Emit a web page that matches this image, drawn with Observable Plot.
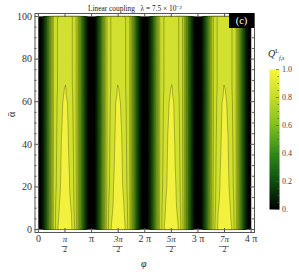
<!DOCTYPE html>
<html><head><meta charset="utf-8">
<script src="https://cdn.jsdelivr.net/npm/d3@7"></script>
<script src="https://cdn.jsdelivr.net/npm/@observablehq/plot@0.6"></script>
<style>
body{margin:0;background:#fff;}
#wrap{position:relative;width:299px;height:274px;font-family:"Liberation Serif",serif;}
#wrap svg{position:absolute;}
.tag{position:absolute;left:229px;top:13px;width:25px;height:15px;background:#000;color:#fff;font:10.5px "Liberation Serif",serif;text-align:center;line-height:15px;}
.qlab{position:absolute;left:268px;top:46px;font:italic 10px "Liberation Serif",serif;color:#222;line-height:10px;}
.qlab sup{font-size:6px;font-style:normal;}
.qlab sub{font-size:6px;}
</style></head><body><div id="wrap"></div>
<script>
const PI = Math.PI;
const nPeriods = 4;
// half-period sample positions (fraction of π) and read values
const tFrac = [0, 0.04, 0.075, 0.1, 0.13, 0.16, 0.19, 0.22, 0.25, 0.28, 0.32, 0.36, 0.40, 0.44, 0.48, 0.5];
const alphaRows = [0, 20, 40, 60, 66, 70, 80, 100];
const lowProfile = [0, 0.015, 0.05, 0.13, 0.27, 0.42, 0.56, 0.68, 0.78];
const highProfiles = [
  [0.86, 0.90, 0.95, 0.965, 0.972, 0.976, 0.977],
  [0.855, 0.89, 0.915, 0.945, 0.96, 0.965, 0.967],
  [0.85, 0.885, 0.91, 0.935, 0.955, 0.96, 0.962],
  [0.85, 0.88, 0.905, 0.925, 0.947, 0.955, 0.957],
  [0.85, 0.88, 0.9, 0.92, 0.935, 0.951, 0.955],
  [0.85, 0.88, 0.9, 0.915, 0.93, 0.944, 0.949],
  [0.85, 0.88, 0.9, 0.915, 0.93, 0.94, 0.945],
  [0.85, 0.88, 0.9, 0.915, 0.93, 0.94, 0.945]
];
const levels = [0, 0.05, 0.1, 0.15, 0.2, 0.25, 0.3, 0.35, 0.4, 0.45, 0.5, 0.55, 0.6, 0.65, 0.7, 0.75, 0.8, 0.85, 0.9, 0.95];
// colour bar gradient
const colorStops = [0, 0.2, 0.4, 0.6, 0.8, 1];
const colorRange = ["#000000", "#0c4f0e", "#2f8a18", "#80bf20", "#c6dc2a", "#f8f63c"];
// colour given to each contour band (by its lower level)
const bandStops = [0, 0.2, 0.4, 0.6, 0.8, 0.9, 0.95];
const bandRange = ["#000000", "#0c4f0e", "#2f8a18", "#80bf20", "#c2d928", "#d2e12f", "#f2f23e"];

const yMajor = [0, 20, 40, 60, 80, 100];
const yMinor = [5, 10, 15, 25, 30, 35, 45, 50, 55, 65, 70, 75, 85, 90, 95];
const xWholeTicks = [0, 1, 2, 3, 4];
const xWholeLabels = ["0", "π", "2 π", "3 π", "4 π"];
const xHalfTicks = [0.5, 1.5, 2.5, 3.5];
const xHalfNumer = ["π", "3π", "5π", "7π"];
const xHalfDenom = ["2", "2", "2", "2"];
const cbMajor = [0, 0.2, 0.4, 0.6, 0.8, 1];
const cbLabels = ["0.", "0.2", "0.4", "0.6", "0.8", "1.0"];
const cbMinor = [0.05, 0.1, 0.15, 0.25, 0.3, 0.35, 0.45, 0.5, 0.55, 0.65, 0.7, 0.75, 0.85, 0.9, 0.95];

// table for the contour
const points = [];
alphaRows.forEach((a, r) => {
  const half = lowProfile.concat(highProfiles[r]);
  for (let k = 0; k < nPeriods; k++) {
    tFrac.forEach((t, i) => {
      points.push({phi: (k + t) * PI, alpha: a, v: half[i]});
      if (t > 0 && t < 0.5) points.push({phi: (k + 1 - t) * PI, alpha: a, v: half[i]});
    });
  }
  points.push({phi: nPeriods * PI, alpha: a, v: half[0]});
});

const barColor = {type: "linear", domain: colorStops, range: colorRange, interpolate: "rgb"};
const mainColor = {type: "linear", domain: bandStops, range: bandRange, interpolate: "rgb", clamp: true};
const xPad = 0.2, yPad = 1.4;
const W = 299, H = 274, mL = 34.5, mR = 45, mT = 13, mB = 42;
const innerW = W - mL - mR, innerH = H - mT - mB;
const frameCol = "#555", labCol = "#333";
const serif = "Liberation Serif";

const chart = Plot.plot({
  width: W, height: H,
  marginLeft: mL, marginRight: mR, marginTop: mT, marginBottom: mB,
  x: {domain: [-xPad, nPeriods * PI + xPad], axis: null},
  y: {domain: [-yPad, 100 + yPad], axis: null},
  color: mainColor,
  style: {fontFamily: serif, background: "transparent", overflow: "visible"},
  marks: [
    Plot.contour(points, {x: "phi", y: "alpha", value: "v", fill: "value", thresholds: levels,
      interpolate: "barycentric", x1: 0, x2: nPeriods * PI, y1: 0, y2: 100,
      stroke: "#1e1e04", strokeOpacity: 0.6, strokeWidth: 0.5}),
    Plot.frame({stroke: frameCol, strokeWidth: 1}),
    Plot.tickX(xWholeTicks.concat(xHalfTicks), {x: d => d * PI, insetTop: innerH - 4, stroke: frameCol}),
    Plot.tickX(xWholeTicks.concat(xHalfTicks), {x: d => d * PI, insetBottom: innerH - 4, stroke: frameCol}),
    Plot.tickY(yMajor, {y: d => d, insetRight: innerW - 4, stroke: frameCol}),
    Plot.tickY(yMinor, {y: d => d, insetRight: innerW - 2, stroke: frameCol}),
    Plot.tickY(yMajor, {y: d => d, insetLeft: innerW - 4, stroke: frameCol}),
    Plot.tickY(yMinor, {y: d => d, insetLeft: innerW - 2, stroke: frameCol}),
    Plot.text(yMajor, {y: d => d, text: d => String(d), frameAnchor: "left", textAnchor: "end", dx: -3, fontSize: 10, fill: labCol}),
    Plot.text(xWholeTicks, {x: d => d * PI, text: (d, i) => xWholeLabels[i], frameAnchor: "bottom", dy: 9, fontSize: 10, fill: labCol, fontStyle: d => d === 0 ? "normal" : "italic"}),
    Plot.text(xHalfTicks, {x: d => d * PI, text: (d, i) => xHalfNumer[i], frameAnchor: "bottom", dy: 9, fontSize: 9, fill: labCol, fontStyle: "italic"}),
    Plot.ruleY(xHalfTicks, {y: () => -yPad, x1: d => d * PI - (d < 1 ? 0.18 : 0.3), x2: d => d * PI + (d < 1 ? 0.18 : 0.3), dy: 14, stroke: labCol, strokeWidth: 0.6}),
    Plot.text(xHalfTicks, {x: d => d * PI, text: (d, i) => xHalfDenom[i], frameAnchor: "bottom", dy: 19.5, fontSize: 8, fill: labCol}),
    Plot.text(["φ"], {frameAnchor: "bottom", dy: 34, dx: -1, fontSize: 10, fontStyle: "italic", fill: "#222"}),
    Plot.text(["ᾱ"], {frameAnchor: "left", dx: -23, dy: -6, rotate: -90, fontSize: 10, fill: "#222"}),
    Plot.text(["Linear coupling\u00a0\u00a0\u00a0λ = 7.5 × 10⁻²"], {frameAnchor: "top", dy: -8, dx: -10, fontSize: 7.4, fill: "#222"})
  ]
});

const bar = Plot.plot({
  width: 40, height: 160,
  marginLeft: 9, marginRight: 21, marginTop: 10, marginBottom: 10,
  x: {domain: [0, 1], axis: null},
  y: {domain: [0, 1], axis: null},
  color: barColor,
  style: {fontFamily: serif, background: "transparent", overflow: "visible"},
  marks: [
    Plot.raster({fill: (x, y) => y, x1: 0, x2: 1, y1: 0, y2: 1}),
    Plot.tickY(cbMajor, {y: d => d, insetLeft: 10 - 3, stroke: frameCol, strokeWidth: 0.7}),
    Plot.tickY(cbMinor, {y: d => d, insetLeft: 10 - 1.5, stroke: frameCol, strokeWidth: 0.7}),
    Plot.text(cbMajor, {y: d => d, text: (d, i) => cbLabels[i], frameAnchor: "right", textAnchor: "start", dx: 2.5, fontSize: 8, fill: "#444"})
  ]
});

const wrap = document.getElementById("wrap");
chart.style.left = "0px"; chart.style.top = "0px";
wrap.appendChild(chart);
bar.style.left = "260px"; bar.style.top = "59px";
wrap.appendChild(bar);
const tag = document.createElement("div");
tag.className = "tag"; tag.textContent = "(c)";
wrap.appendChild(tag);
const q = document.createElement("div");
q.className = "qlab"; q.innerHTML = "Q<sup>L</sup><sub>f,s</sub>";
wrap.appendChild(q);
</script></body></html>
